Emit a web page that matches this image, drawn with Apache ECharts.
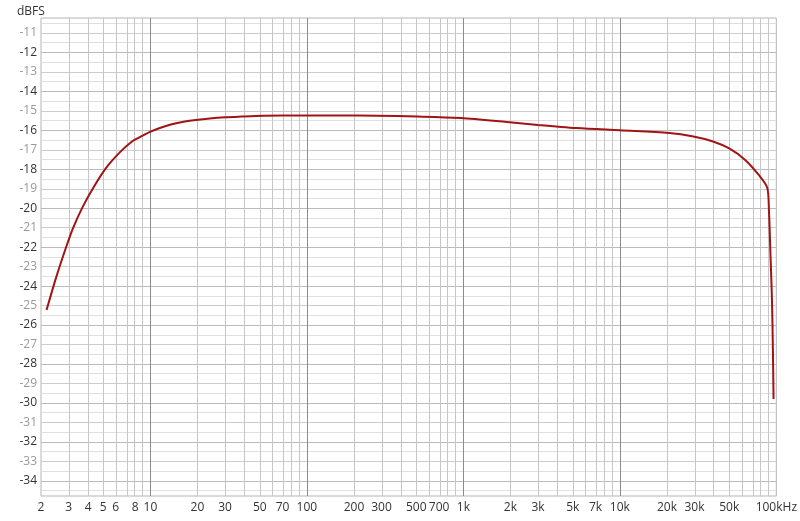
<!DOCTYPE html>
<html><head><meta charset="utf-8">
<script src="https://cdn.jsdelivr.net/npm/echarts@6/dist/echarts.min.js"></script>
<style>html,body{margin:0;padding:0;background:#fff}#c{width:800px;height:521px}</style>
</head><body><div id="c"></div>
<script>
// Data (frequency in Hz, level in dBFS)
const freqHz = [2.17, 2.5, 2.9, 3.2, 3.7, 4.3, 5.2, 6.4, 7.7, 8.5, 9.8, 11.5, 13.5, 16, 19.5, 24, 30, 38, 47, 70, 100, 160, 280, 510, 960, 1900, 3000, 5300, 10000, 20700, 29000, 39000, 50000, 63500, 77000, 87500, 89700, 91500, 93800, 95100, 96000];
const levelDb = [-25.23, -23.55, -21.98, -21.03, -19.92, -18.97, -17.94, -17.12, -16.55, -16.36, -16.1, -15.88, -15.7, -15.57, -15.47, -15.39, -15.33, -15.29, -15.26, -15.24, -15.24, -15.24, -15.25, -15.29, -15.37, -15.57, -15.72, -15.88, -16.0, -16.14, -16.3, -16.56, -16.93, -17.53, -18.28, -18.95, -20.1, -22.1, -24.7, -27.3, -29.8];
const xTickFreqs = [2, 3, 4, 5, 6, 8, 10, 20, 30, 50, 70, 100, 200, 300, 500, 700, 1000, 2000, 3000, 5000, 7000, 10000, 20000, 30000, 50000, 100000];
const xTickLabels = ['2', '3', '4', '5', '6', '8', '10', '20', '30', '50', '70', '100', '200', '300', '500', '700', '1k', '2k', '3k', '5k', '7k', '10k', '20k', '30k', '50k', '100kHz'];
const decadeLines = [10, 100, 1000, 10000];
const minorLines = [3,4,5,6,7,8,9, 20,30,40,50,60,70,80,90, 200,300,400,500,600,700,800,900, 2000,3000,4000,5000,6000,7000,8000,9000, 20000,30000,40000,50000,60000,70000,80000,90000];
const yTickValues = [-34,-33,-32,-31,-30,-29,-28,-27,-26,-25,-24,-23,-22,-21,-20,-19,-18,-17,-16,-15,-14,-13,-12,-11];
const yMin = -34.78, yMax = -10.23;
const xMin = 2, xMax = 100000;

const lg = v => Math.log10(v);
const labelMap = {};
xTickFreqs.forEach((f, i) => { labelMap[lg(f).toFixed(5)] = xTickLabels[i]; });

const evenY = yTickValues.filter(v => v % 2 === 0);
const oddY = yTickValues.filter(v => v % 2 !== 0);
const halfY = yTickValues.map(v => v - 0.5).concat([-10.5]);

function vLines(arr, color) {
  return { silent: true, symbol: 'none', label: {show: false}, animation: false,
    lineStyle: {color: color, type: 'solid', width: 1},
    data: arr.map(f => ({xAxis: lg(f)})) };
}
function hLines(arr, color) {
  return { silent: true, symbol: 'none', label: {show: false}, animation: false,
    lineStyle: {color: color, type: 'solid', width: 1},
    data: arr.map(v => ({yAxis: v})) };
}
const dummy = (ml) => ({type: 'line', data: [], markLine: ml, silent: true, z: 1});

const chart = echarts.init(document.getElementById('c'), null, {renderer: 'canvas'});
chart.setOption({
  animation: false,
  backgroundColor: '#fff',
  textStyle: {fontFamily: 'Open Sans'},
  grid: {left: 41, top: 18, right: 19, bottom: 25, show: true, borderColor: '#b4b4b4', borderWidth: 1, containLabel: false},
  title: {text: 'dBFS', left: 12, top: 1, textStyle: {fontSize: 12, fontWeight: 'normal', color: '#333', fontFamily: 'Open Sans'}},
  xAxis: {
    type: 'value', min: lg(xMin), max: lg(xMax),
    axisLine: {show: false}, axisTick: {show: false}, splitLine: {show: false},
    axisLabel: {
      customValues: xTickFreqs.map(lg),
      formatter: v => labelMap[v.toFixed(5)] || '',
      color: '#333', fontSize: 12, margin: 6, showMinLabel: true, showMaxLabel: true, hideOverlap: false
    }
  },
  yAxis: {
    type: 'value', min: yMin, max: yMax,
    axisLine: {show: false}, axisTick: {show: false}, splitLine: {show: false},
    axisLabel: {
      customValues: yTickValues,
      formatter: v => {
        const r = Math.round(v);
        return r % 2 === 0 ? '{e|' + r + '}' : '{o|' + r + '}';
      },
      rich: {e: {color: '#333', fontSize: 12}, o: {color: '#999', fontSize: 12}},
      margin: 4, showMinLabel: true, showMaxLabel: true
    }
  },
  series: [
    dummy(hLines(halfY, '#e0e0e0')),
    dummy(hLines(oddY, '#cccccc')),
    dummy(hLines(evenY, '#bbbbbb')),
    dummy(vLines(minorLines, '#c6c6c6')),
    dummy(vLines(decadeLines, '#8c8c8c')),
    {
      type: 'line', z: 5, showSymbol: false, smooth: 0.3,
      lineStyle: {color: '#a01414', width: 2},
      data: freqHz.map((f, i) => [lg(f), levelDb[i]])
    }
  ]
});
</script></body></html>
